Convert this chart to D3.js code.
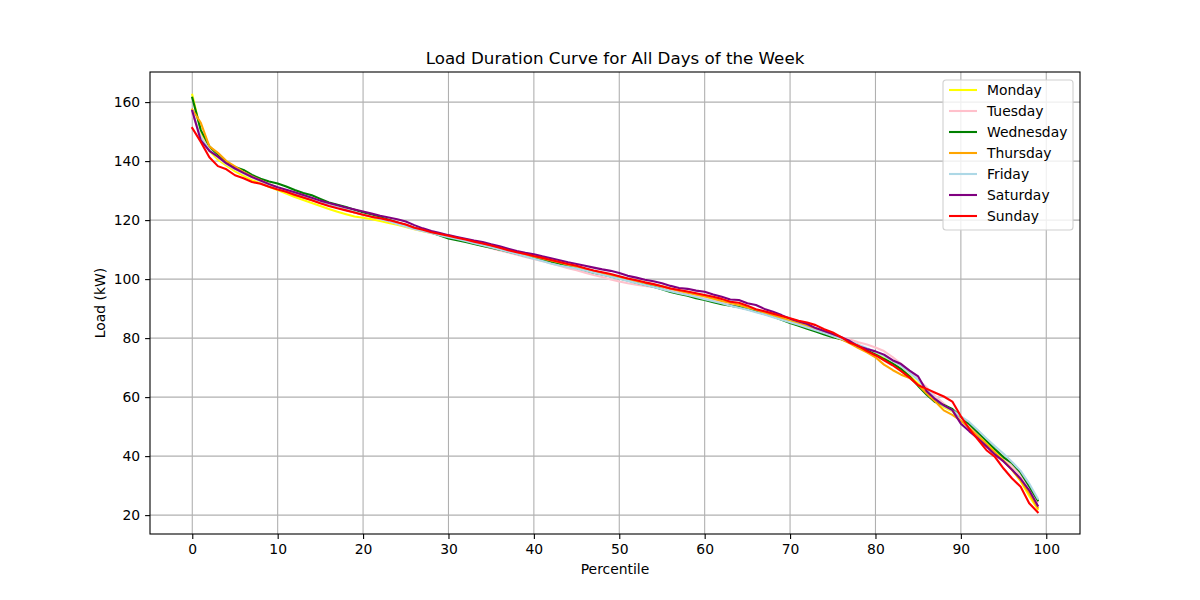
<!DOCTYPE html>
<html>
<head>
<meta charset="utf-8">
<script src="https://cdn.jsdelivr.net/npm/d3@7"></script>
<style>
  body { margin: 0; background: #fff; }
  svg { font-family: "DejaVu Sans", sans-serif; }
</style>
</head>
<body>
<script>
// series values, one per percentile 0..99
var monday = [162.5,150,143.5,140.5,138.5,136.5,135,133.5,132.5,131.2,130.2,129,127.8,126.8,125.8,124.8,123.8,122.8,122,121.2,
  120.8,120.3,119.7,119,118.4,117.7,116.9,116.2,115.6,115,114.4,113.7,113,112.3,111.7,111,110.3,109.6,108.9,108.3,
  107.6,106.9,106.2,105.6,104.9,104.2,103.5,102.7,102.1,101.4,100.8,100.1,99.4,98.8,98.2,97.6,96.8,95.9,95.4,94.7,
  94.1,93.3,92.6,91.8,91.1,90.3,89.5,88.7,87.9,87.1,86.1,85.2,84.2,83.3,82.4,81.3,80.1,78.8,77.6,76.2,
  74.7,73.2,71.5,69.6,67.2,64.6,61.5,58.8,56.6,55.2,52.8,49.9,47.1,44.4,41.6,38.5,35.4,31.5,26.5,22];
var tuesday = [156,148.5,144,141.2,139,137.3,135.8,134.4,133.2,132,131,129.9,128.9,128,127,126,125.1,124.2,123.4,122.6,
  121.8,121.1,120.4,119.6,118.8,117.9,117,116.3,115.6,114.9,114.2,113.5,112.8,112.1,111.3,110.5,109.7,109,108.3,107.5,
  106.8,106.1,105.3,104.5,103.7,103,102.2,101.4,100.7,99.9,99.2,98.6,98.1,97.7,97.3,96.8,96.2,95.5,94.8,94.1,
  93.4,92.7,92.1,91.4,90.6,89.8,89.1,88.2,87.4,86.5,85.6,84.7,83.8,82.9,82,81.1,80.3,79.5,78.6,77.8,
  76.8,75.6,73.6,71.3,68.7,66,63.3,60.3,57.8,55.4,52.6,50,47.6,45.4,42.6,39.5,36.6,33.4,29.7,24.5];
var wednesday = [161.5,150.5,145,142,139.5,138,137,135.3,134,133.1,132.4,131.4,130.2,129.2,128.4,127.2,126,125.2,124.4,123.5,
  122.6,121.8,121,120.1,119.2,118.3,117.4,116.6,115.8,114.8,113.8,113.2,112.6,111.9,111.2,110.6,110,109.3,108.6,107.8,
  107.1,106.5,105.9,105.2,104.5,103.8,103,102.2,101.6,100.9,100.2,99.5,98.8,98.1,97.4,96.6,95.6,95,94.4,93.5,
  92.9,92.2,91.5,91,90.5,89.8,89,88.2,87.3,86.2,85.1,84.2,83.2,82.2,81.2,80.3,79.6,78.6,77.2,75.8,
  74.5,72.9,71.4,69.5,67,63.8,60.8,58.3,57.3,56,53.3,50.8,48,45.2,42.3,39.6,37.6,34.4,29.8,25];
var thursday = [157.5,153,145,142.8,140,138.2,136.3,134.8,133.5,132.2,131,129.6,128.4,127.7,126.8,125.8,125,124.2,123.4,122.6,
  121.9,121.2,120.5,119.8,119,118.3,117.3,116.5,115.8,115.1,114.5,113.9,113.3,112.7,112,111.2,110.4,109.6,108.9,108.3,
  107.7,107,106.3,105.6,104.9,104.2,103.4,102.7,102,101.3,100.7,100,99.3,98.7,98.2,97.5,96.7,96.1,95.4,94.8,
  94.2,93.4,92.6,92,91.3,90.4,89.6,88.6,87.7,86.8,85.8,84.9,84,83,82,80.9,79.6,78.2,76.6,75.2,
  73.5,71,69.2,67.6,66.5,64.2,61.2,58.5,55.5,54,52,49.5,46.8,44,41.2,38.3,35.3,31.8,27.4,22.5];
var friday = [157,148,143.8,141.4,139,137.3,135.9,134.5,133.3,132.1,131,130,129,128,127,126.1,125.2,124.3,123.5,122.7,
  121.9,121.2,120.4,119.6,118.7,117.8,117,116.3,115.6,114.9,114.2,113.6,112.9,112.2,111.5,110.8,110,109.3,108.5,107.7,
  106.9,106.1,105.3,104.6,104.1,103.6,102.9,102.2,101.5,100.8,100.1,99.4,98.7,98,97.3,96.6,95.9,95.2,94.6,93.9,
  93.2,92.5,91.8,91,90.3,89.6,88.8,88,87.1,86.2,85.4,84.5,83.6,82.7,81.7,80.7,79.8,78.8,77.8,76.6,
  75.3,74,72.2,70.5,68.2,65.8,62.5,59.5,57,55.5,53.5,51.5,48.8,46,43.3,40.8,38,35,30.7,25.6];
var saturday = [157,147,143.5,141.5,139.2,137.5,136,134.6,133.4,132.2,131.1,130.3,129.4,128.5,127.6,126.6,125.8,125,124.3,123.6,
  122.9,122.2,121.5,120.9,120.3,119.5,118.3,117.2,116.3,115.6,114.9,114.3,113.7,113.1,112.6,111.8,111.1,110.3,109.5,108.9,
  108.4,107.7,107.1,106.4,105.7,105.1,104.5,103.9,103.3,102.8,102.1,101.1,100.5,99.8,99.3,98.6,97.7,97,96.7,96.1,
  95.7,94.8,94,93.1,92.9,91.8,91.2,89.9,88.9,87.8,86.6,85.6,84.8,83.4,82.4,81.4,80.3,79,77.2,76.3,
  75.5,74.4,72.5,71.2,69,67,62,59.3,57.2,55.6,51,48.4,46,43.3,40.5,38.2,35.4,32.3,28.4,23.2];
var sunday = [151.2,146.5,141.3,138.3,137.2,135.2,134.2,132.9,132.3,131.3,130.4,129.6,128.6,127.7,126.7,125.7,124.8,124,123.3,122.6,
  121.8,121.1,120.6,120,119.3,118.5,117.4,116.7,115.9,115.3,114.7,114,113.4,112.7,112.1,111.4,110.6,109.8,109.1,108.5,
  107.8,107.2,106.5,105.8,105.1,104.5,103.7,102.9,102.3,101.7,101,100.2,99.6,98.9,98.3,97.6,96.8,96.3,95.8,95.2,
  94.6,94,93.3,92.3,92,91,89.8,89.1,88.3,87.5,86.7,85.9,85.3,84.4,83,81.9,80.3,78.4,77.4,75.6,
  74.2,72.5,70.8,68.8,66.6,64,62.8,61.5,60.2,58.5,53.5,49.2,45.6,42,39.7,35.8,32.4,29.6,24,21];

var days = ["Monday","Tuesday","Wednesday","Thursday","Friday","Saturday","Sunday"];
var dayColors = ["yellow","pink","green","orange","lightblue","purple","red"];
var allSeries = [monday,tuesday,wednesday,thursday,friday,saturday,sunday];
var xTicks = [0,10,20,30,40,50,60,70,80,90,100];
var yTicks = [20,40,60,80,100,120,140,160];

var W = 1200, H = 600;
var plot = {left: 150, right: 1080, top: 72, bottom: 534};

var svg = d3.select("body").append("svg")
  .attr("width", W)
  .attr("height", H);

// matplotlib style 5% margins
var x = d3.scaleLinear().domain([-4.95, 103.95]).range([plot.left, plot.right]);
var y = d3.scaleLinear().domain([13.6, 170.2]).range([plot.bottom, plot.top]);

// GRID
var grid = svg.append("g");
grid.selectAll("line.gx").data(xTicks).enter().append("line")
  .attr("x1", function(d){ return x(d) }).attr("x2", function(d){ return x(d) })
  .attr("y1", plot.top).attr("y2", plot.bottom)
  .style("stroke", "#b0b0b0").style("stroke-width", 1.1);
grid.selectAll("line.gy").data(yTicks).enter().append("line")
  .attr("y1", function(d){ return y(d) }).attr("y2", function(d){ return y(d) })
  .attr("x1", plot.left).attr("x2", plot.right)
  .style("stroke", "#b0b0b0").style("stroke-width", 1.1);

// LINES
var line = d3.line()
  .x(function(d, i){ return x(i) })
  .y(function(d){ return y(d) });

svg.append("g").selectAll("path")
  .data(allSeries)
  .enter().append("path")
  .attr("d", line)
  .style("fill", "none")
  .style("stroke", function(d, i){ return dayColors[i] })
  .style("stroke-width", 2.1)
  .style("stroke-linejoin", "round")
  .style("stroke-linecap", "square");

// AXES
var xAxis = svg.append("g")
  .attr("transform", "translate(0," + plot.bottom + ")")
  .call(d3.axisBottom(x).tickValues(xTicks).tickSizeOuter(0).tickSize(4.9).tickPadding(4.9));
var yAxis = svg.append("g")
  .attr("transform", "translate(" + plot.left + ",0)")
  .call(d3.axisLeft(y).tickValues(yTicks).tickSizeOuter(0).tickSize(4.9).tickPadding(4.9));
[xAxis, yAxis].forEach(function(a){
  a.select(".domain").remove();
  a.selectAll("text").style("font-size", "13.9px").style("fill", "#000").style("font-family", "DejaVu Sans, sans-serif");
  a.selectAll("line").style("stroke", "#000").style("stroke-width", 1.1);
});

// FRAME
svg.append("rect")
  .attr("x", plot.left).attr("y", plot.top)
  .attr("width", plot.right - plot.left).attr("height", plot.bottom - plot.top)
  .style("fill", "none").style("stroke", "#000").style("stroke-width", 1.1);

// TITLE AND LABELS
svg.append("text")
  .attr("x", (plot.left + plot.right) / 2).attr("y", 64)
  .attr("text-anchor", "middle")
  .style("font-size", "16.7px")
  .text("Load Duration Curve for All Days of the Week");
svg.append("text")
  .attr("x", (plot.left + plot.right) / 2).attr("y", 574)
  .attr("text-anchor", "middle")
  .style("font-size", "13.9px")
  .text("Percentile");
svg.append("text")
  .attr("transform", "translate(105," + ((plot.top + plot.bottom) / 2) + ") rotate(-90)")
  .attr("text-anchor", "middle")
  .style("font-size", "13.9px")
  .text("Load (kW)");

// LEGEND
var legend = svg.append("g").attr("transform", "translate(943,80)");
legend.append("rect")
  .attr("width", 130).attr("height", 150)
  .attr("rx", 3).attr("ry", 3)
  .style("fill", "#fff").style("fill-opacity", 0.8)
  .style("stroke", "#d0d0d0").style("stroke-width", 1.1);
var item = legend.selectAll("g.item").data(days).enter().append("g")
  .attr("transform", function(d, i){ return "translate(0," + (10 + i * 21) + ")" });
item.append("line")
  .attr("x1", 6).attr("x2", 34).attr("y1", 0).attr("y2", 0)
  .style("stroke", function(d, i){ return dayColors[i] })
  .style("stroke-width", 2.1);
item.append("text")
  .attr("x", 44).attr("y", 5)
  .style("font-size", "13.9px")
  .text(function(d){ return d });
</script>
</body>
</html>
